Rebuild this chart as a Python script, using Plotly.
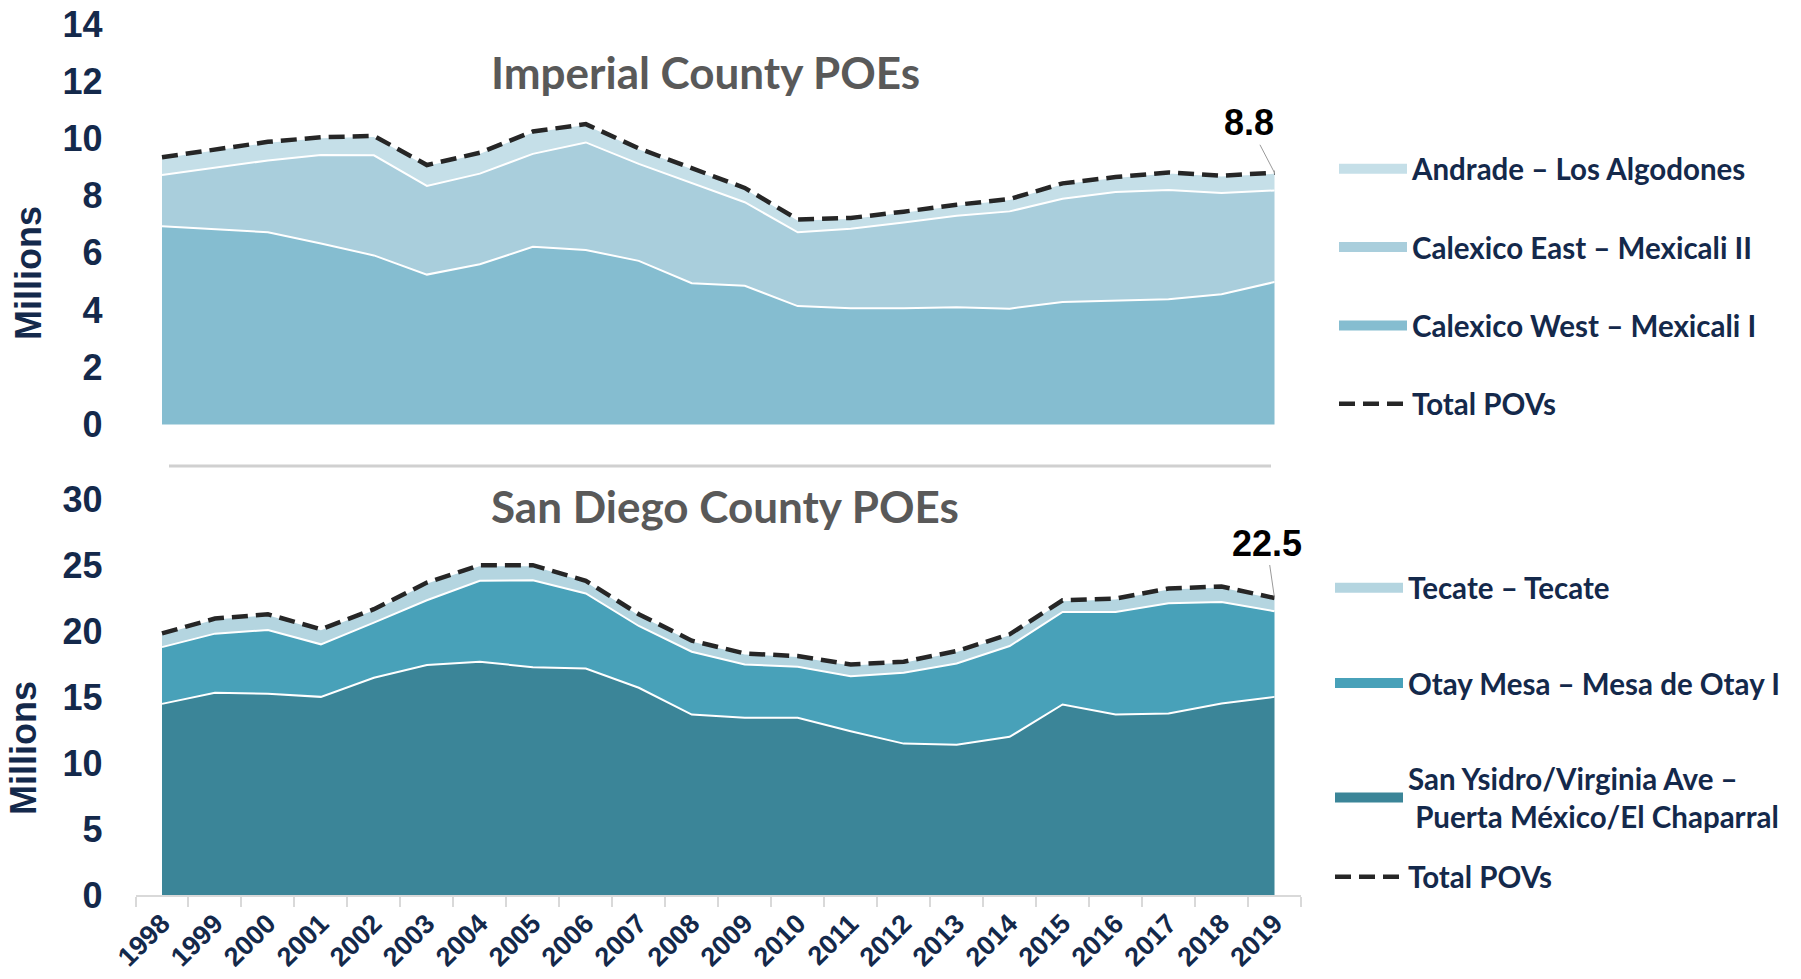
import plotly.graph_objects as go

# ---------------- data (millions of POVs) ----------------
years = [str(y) for y in range(1998, 2020)]

# Imperial County POEs
calexico_west = [6.93, 6.82, 6.72, 6.33, 5.91, 5.24, 5.60, 6.21, 6.10, 5.72, 4.94,
                 4.85, 4.14, 4.06, 4.06, 4.10, 4.05, 4.28, 4.33, 4.38, 4.55, 4.98]
calexico_east = [1.79, 2.15, 2.51, 3.09, 3.50, 3.10, 3.17, 3.25, 3.76, 3.39, 3.50,
                 2.92, 2.58, 2.78, 3.00, 3.20, 3.40, 3.61, 3.80, 3.82, 3.54, 3.20]
andrade = [0.62, 0.63, 0.65, 0.62, 0.68, 0.73, 0.73, 0.78, 0.64, 0.54, 0.51,
           0.50, 0.45, 0.38, 0.38, 0.38, 0.43, 0.54, 0.52, 0.61, 0.61, 0.62]

# San Diego County POEs
san_ysidro = [14.48, 15.32, 15.24, 15.01, 16.46, 17.42, 17.67, 17.26, 17.16, 15.70, 13.67,
              13.42, 13.42, 12.41, 11.47, 11.39, 11.98, 14.43, 13.67, 13.75, 14.51, 15.01]
otay_mesa = [4.30, 4.48, 4.84, 3.98, 4.17, 4.91, 6.13, 6.59, 5.68, 4.68, 4.76,
             4.05, 3.87, 4.17, 5.37, 6.15, 6.88, 7.01, 7.77, 8.35, 7.69, 6.49]
tecate = [1.04, 1.14, 1.19, 1.14, 1.02, 1.34, 1.19, 1.14, 0.96, 0.89, 0.84,
          0.83, 0.81, 0.89, 0.83, 0.94, 0.89, 0.89, 1.02, 1.12, 1.17, 1.00]

imperial_total = [a + b + c for a, b, c in zip(calexico_west, calexico_east, andrade)]
sandiego_total = [a + b + c for a, b, c in zip(san_ysidro, otay_mesa, tecate)]

imperial_ticks = [0, 2, 4, 6, 8, 10, 12, 14]
sandiego_ticks = [0, 5, 10, 15, 20, 25, 30]

# ---------------- styling ----------------
W, H = 1801, 979
NAVY = "#14294b"
NUM_FONT = "Liberation Sans, Arial, sans-serif"
TXT_FONT = "Lato, Open Sans, sans-serif"
DASH = "16px,8px"


def fx(px):
    return px / W


def fy(px):
    return 1 - px / H


fig = go.Figure()

top_series = [
    ("Calexico West – Mexicali I", calexico_west, "#85bdd0", 3),
    ("Calexico East – Mexicali II", calexico_east, "#a9cedc", 2),
    ("Andrade – Los Algodones", andrade, "#c5dfe8", 1),
]
for name, vals, col, rank in top_series:
    fig.add_trace(go.Scatter(
        x=years, y=vals, name=name, stackgroup="imp", mode="lines",
        line=dict(color="white", width=2), fillcolor=col,
        xaxis="x", yaxis="y", showlegend=False,
    ))
    # legend swatch
    fig.add_trace(go.Scatter(
        x=[None], y=[None], name=name, mode="lines",
        line=dict(color=col, width=15), xaxis="x", yaxis="y",
        legend="legend", legendgroup=name, legendrank=rank,
    ))
fig.add_trace(go.Scatter(
    x=years, y=imperial_total, name="Total POVs", mode="lines",
    line=dict(color="#262626", width=4.5, dash=DASH),
    xaxis="x", yaxis="y", legend="legend", legendgroup="timp", legendrank=4,
))

bottom_series = [
    ("San Ysidro/Virginia Ave –<br> Puerta México/El Chaparral", san_ysidro, "#3b8598", 3),
    ("Otay Mesa – Mesa de Otay I", otay_mesa, "#48a1b9", 2),
    ("Tecate – Tecate", tecate, "#b4d5e0", 1),
]
for name, vals, col, rank in bottom_series:
    fig.add_trace(go.Scatter(
        x=years, y=vals, name=name, stackgroup="sd", mode="lines",
        line=dict(color="white", width=2), fillcolor=col,
        xaxis="x2", yaxis="y2", showlegend=False,
    ))
    fig.add_trace(go.Scatter(
        x=[None], y=[None], name=name, mode="lines",
        line=dict(color=col, width=15), xaxis="x2", yaxis="y2",
        legend="legend2", legendgroup=name, legendrank=rank,
    ))
fig.add_trace(go.Scatter(
    x=years, y=sandiego_total, name="Total POVs", mode="lines",
    line=dict(color="#262626", width=4.5, dash=DASH),
    xaxis="x2", yaxis="y2", legend="legend3",
))

# axis geometry (pixel positions measured on the reference)
x_dom = [fx(135.5), fx(1301)]
top_zero, top_14, top_bot, top_top = 424.5, 24.0, 466.0, 6.0
ppu_top = (top_zero - top_14) / 14
bot_zero, bot_30, bot_top = 895.0, 499.0, 476.0
ppu_bot = (bot_zero - bot_30) / 30

tick_font = dict(family=NUM_FONT, size=36, color=NAVY, weight="bold")
legend_font = dict(family=TXT_FONT, size=29.5, color=NAVY, weight="bold")
title_font = dict(family=TXT_FONT, size=44, color="#595959", weight="bold")
ylab_font = dict(family=NUM_FONT, size=36, color=NAVY, weight="bold")
num_font = dict(family=NUM_FONT, size=36, color="black", weight="bold")

fig.update_layout(
    width=W, height=H,
    margin=dict(l=0, r=0, t=0, b=0, autoexpand=False),
    paper_bgcolor="white", plot_bgcolor="white",
    showlegend=True,
    xaxis=dict(domain=x_dom, type="category", range=[-0.5, 21.5], visible=False,
               anchor="y", automargin=False),
    yaxis=dict(domain=[fy(top_bot), fy(top_top)],
               range=[-(top_bot - top_zero) / ppu_top, 14 + (top_14 - top_top) / ppu_top],
               tickvals=imperial_ticks, showgrid=False, zeroline=False,
               showline=False, ticks="", tickfont=tick_font, ticklabelstandoff=32,
               anchor="x", automargin=False),
    xaxis2=dict(domain=x_dom, type="category", range=[-0.5, 21.5], anchor="y2",
                showline=True, linecolor="#d9d9d9", linewidth=2,
                ticks="outside", tickson="boundaries", ticklen=10,
                tickcolor="#d9d9d9", tickwidth=2, showgrid=False,
                tickangle=-45, automargin=False,
                tickfont=dict(family=NUM_FONT, size=27, color=NAVY, weight="bold")),
    yaxis2=dict(domain=[fy(bot_zero), fy(bot_top)],
                range=[0, 30 + (bot_30 - bot_top) / ppu_bot],
                tickvals=sandiego_ticks, showgrid=False, zeroline=False,
                showline=False, ticks="", tickfont=tick_font, ticklabelstandoff=32,
                anchor="x2", automargin=False),
    legend=dict(x=fx(1334), y=fy(143), xanchor="left", yanchor="top",
                bgcolor="rgba(0,0,0,0)", tracegroupgap=37, itemwidth=68,
                font=legend_font),
    legend2=dict(x=fx(1330), y=fy(562), xanchor="left", yanchor="top",
                 bgcolor="rgba(0,0,0,0)", tracegroupgap=54, itemwidth=68,
                 font=legend_font),
    legend3=dict(x=fx(1330), y=fy(877), xanchor="left", yanchor="middle",
                 bgcolor="rgba(0,0,0,0)", itemwidth=68, font=legend_font),
    annotations=[
        dict(text="Imperial County POEs", xref="paper", yref="paper",
             x=fx(705), y=fy(72), xanchor="center", yanchor="middle",
             showarrow=False, font=title_font),
        dict(text="San Diego County POEs", xref="paper", yref="paper",
             x=fx(725), y=fy(506), xanchor="center", yanchor="middle",
             showarrow=False, font=title_font),
        dict(text="Millions", xref="paper", yref="paper", textangle=-90,
             x=fx(29), y=fy(273), xanchor="center", yanchor="middle",
             showarrow=False, font=ylab_font),
        dict(text="Millions", xref="paper", yref="paper", textangle=-90,
             x=fx(23), y=fy(748), xanchor="center", yanchor="middle",
             showarrow=False, font=ylab_font),
        dict(text="%.1f" % imperial_total[-1], xref="x", yref="y",
             x=len(years) - 1, y=imperial_total[-1], showarrow=True, arrowhead=0,
             arrowwidth=1, arrowcolor="#9a9a9a", ax=-26, ay=-50, font=num_font),
        dict(text="%.1f" % sandiego_total[-1], xref="x2", yref="y2",
             x=len(years) - 1, y=sandiego_total[-1], showarrow=True, arrowhead=0,
             arrowwidth=1, arrowcolor="#9a9a9a", ax=-8, ay=-55, font=num_font),
    ],
    shapes=[
        dict(type="line", xref="paper", yref="paper",
             x0=fx(169), x1=fx(1271), y0=fy(466), y1=fy(466),
             line=dict(color="#d0d0d0", width=3)),
    ],
)

fig.write_html("out.html", config={"displayModeBar": False},
               post_script="document.body.style.margin='0';document.body.style.overflow='hidden';")
